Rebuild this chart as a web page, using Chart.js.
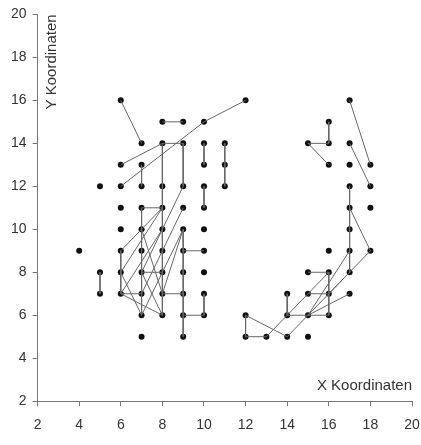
<!DOCTYPE html>
<html>
<head>
<meta charset="utf-8">
<script src="https://cdn.jsdelivr.net/npm/chart.js@4"></script>
<style>
  html, body { margin: 0; padding: 0; background: #fff; }
</style>
</head>
<body>
<canvas id="myChart" width="421" height="445"></canvas>
<script>
// axis range and tick step
const axisMin = 2;
const axisMax = 20;
const tickStep = 2;

// measured points (x, y)
const dotX = [
  4,
  5, 5, 5,
  6, 6, 6, 6, 6, 6, 6, 6,
  7, 7, 7, 7, 7, 7, 7, 7, 7, 7,
  8, 8, 8, 8, 8, 8, 8, 8, 8,
  9, 9, 9, 9, 9, 9, 9, 9, 9, 9,
  10, 10, 10, 10, 10, 10, 10, 10, 10, 10,
  11, 11, 11,
  12, 12, 12,
  13,
  14, 14, 14,
  15, 15, 15, 15, 15,
  16, 16, 16, 16, 16, 16, 16,
  17, 17, 17, 17, 17, 17, 17, 17, 17,
  18, 18, 18, 18,
];
const dotY = [
  9,
  12, 8, 7,
  16, 13, 12, 11, 10, 9, 8, 7,
  14, 13, 12, 11, 10, 9, 8, 7, 6, 5,
  15, 14, 12, 11, 10, 9, 8, 7, 6,
  15, 14, 12, 11, 10, 9, 8, 7, 6, 5,
  15, 14, 13, 12, 11, 10, 9, 8, 7, 6,
  14, 13, 12,
  16, 6, 5,
  5,
  7, 6, 5,
  14, 8, 7, 6, 5,
  15, 14, 13, 9, 8, 7, 6,
  16, 14, 13, 12, 11, 10, 9, 8, 7,
  13, 12, 11, 9,
];

// connections: x1, y1, x2, y2
const links = [
  [6, 16, 7, 14], [12, 16, 10, 15], [10, 15, 6, 12], [6, 13, 8, 14],
  [8, 15, 9, 15], [8, 14, 9, 14], [8, 14, 8, 6], [9, 14, 9, 12],
  [10, 14, 10, 13], [10, 12, 10, 11], [11, 14, 11, 12], [7, 13, 7, 12],
  [7, 11, 8, 11], [5, 8, 5, 7], [6, 9, 6, 7], [7, 11, 7, 6],
  [9, 10, 9, 5], [9, 9, 10, 9], [9, 6, 10, 6], [10, 7, 10, 6],
  [7, 8, 8, 8], [8, 7, 9, 7], [6, 7, 7, 7],
  [6, 7, 8, 10], [6, 9, 8, 11], [7, 7, 9, 11], [8, 7, 9, 10],
  [6, 8, 8, 11], [7, 8, 9, 12], [7, 6, 9, 10],
  [6, 7, 8, 6], [7, 8, 8, 6], [6, 8, 7, 6], [7, 10, 8, 7],
  [17, 16, 18, 13], [16, 15, 16, 14], [15, 14, 16, 14], [15, 14, 16, 13],
  [17, 14, 18, 12], [17, 12, 17, 8], [17, 11, 18, 9],
  [15, 8, 16, 8], [16, 8, 16, 6], [15, 7, 16, 7], [14, 7, 14, 6],
  [14, 6, 16, 6], [12, 6, 12, 5], [12, 5, 13, 5], [12, 6, 14, 5],
  [13, 5, 16, 8], [14, 5, 18, 9], [15, 6, 17, 9], [17, 7, 15, 6],
  [17, 8, 16, 7],
];

const dots = dotX.map((x, i) => ({ x: x, y: dotY[i] }));
// one line dataset per link
const linkSets = links.map((l) => ({
  type: "line",
  data: [{ x: l[0], y: l[1] }, { x: l[2], y: l[3] }],
  borderColor: "#666",
  borderWidth: 1,
  pointRadius: 0,
  fill: false,
}));

const fontFamily = "'Liberation Sans', Arial, sans-serif";

const titles = {
  id: "axisTitles",
  afterDraw: (chart) => {
    const c = chart.ctx;
    const area = chart.chartArea;
    c.save();
    c.fillStyle = "#333";
    c.font = "15px " + fontFamily;
    c.textAlign = "right";
    c.textBaseline = "middle";
    c.fillText("X Koordinaten", area.right, area.bottom - 15);
    c.translate(area.left + 14, area.top);
    c.rotate(-Math.PI / 2);
    c.fillText("Y Koordinaten", 0, 0);
    c.restore();
  },
};

const ctx = document.getElementById("myChart");
new Chart(ctx, {
  type: "scatter",
  data: {
    datasets: linkSets.concat([
      {
        data: dots,
        pointRadius: 3,
        borderWidth: 0,
        backgroundColor: "#111",
      },
    ]),
  },
  options: {
    responsive: false,
    animation: false,
    layout: { padding: { top: 8, right: 0, left: 5 } },
    plugins: {
      legend: { display: false },
      tooltip: { enabled: false },
    },
    scales: {
      x: {
        min: axisMin,
        max: axisMax,
        afterFit: (s) => { s.paddingRight = 9; },
        ticks: { stepSize: tickStep, color: "#333", font: { size: 14, family: fontFamily }, padding: 11 },
        grid: { drawOnChartArea: false, tickLength: 5, color: "#777" },
        border: { color: "#777" },
      },
      y: {
        min: axisMin,
        max: axisMax,
        ticks: { stepSize: tickStep, color: "#333", font: { size: 14, family: fontFamily }, padding: 6 },
        grid: { drawOnChartArea: false, tickLength: 5, color: "#777" },
        border: { color: "#777" },
      },
    },
  },
  plugins: [titles],
});
</script>
</body>
</html>
